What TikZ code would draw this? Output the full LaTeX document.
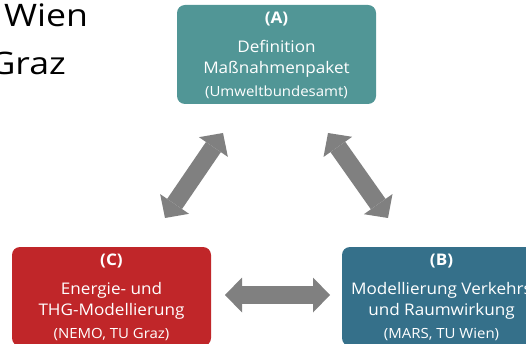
\documentclass[tikz,border=0pt]{standalone}
\usepackage{fontspec}
\setmainfont[FakeStretch=1.07]{Open Sans}
\newfontfamily\cityfont[FakeStretch=1.15]{Open Sans}
\usetikzlibrary{arrows.meta,calc}
\definecolor{boxA}{RGB}{81,150,150}
\definecolor{boxB}{RGB}{53,112,138}
\definecolor{boxC}{RGB}{192,38,41}
\definecolor{arrowgray}{RGB}{128,128,128}
\tikzset{
  block/.style={rounded corners=8pt, minimum width=199pt, minimum height=99pt, inner sep=0pt},
  hdr/.style={anchor=base, text=white, inner sep=0pt, font=\fontsize{16}{19}\selectfont\bfseries},
  body/.style={anchor=base, text=white, inner sep=0pt, font=\fontsize{16}{19}\selectfont},
  foot/.style={anchor=base, text=white, inner sep=0pt, font=\fontsize{14}{17}\selectfont},
  city/.style={inner sep=0pt, font=\cityfont\fontsize{31}{36}\selectfont},
  bigtip/.tip={Triangle[length=17pt 0 0, width=35pt 0 0, line width=0pt]},
  bigarrow/.style={draw=arrowgray, line width=18pt, bigtip-bigtip}
}
\begin{document}
\begin{tikzpicture}[x=1pt,y=-1pt]
\useasboundingbox (0,0) rectangle (526,344);
\clip (0,0) rectangle (526,344);
\node[city, anchor=base west] (wien) at (4,27) {Wien};
\node[city, anchor=base east] (graz) at (66,75) {Graz};
\node[block, fill=boxA] (A) at (276.5,54.5) {};
\node[block, fill=boxC] (C) at (111.5,296.5) {};
\node[block, fill=boxB] (B) at (441.5,296.5) {};
\foreach \b/\h/\la/\lb/\f in {A/(A)/Definition/Maßnahmenpaket/(Umweltbundesamt),
  C/(C)/Energie- und/THG-Modellierung/{(NEMO, TU Graz)},
  B/(B)/Modellierung Verkehrs/und Raumwirkung/{(MARS, TU Wien)}}{
  \node[hdr] (\b h) at ($(\b.north)+(0,19)$) {\h};
  \node[body] (\b 1) at ($(\b.north)+(0,48)$) {\la};
  \node[body] (\b 2) at ($(\b.north)+(0,69)$) {\lb};
  \node[foot] (\b f) at ($(\b.north)+(0,92)$) {\f};
}
\coordinate (acA) at (223,133);
\coordinate (acC) at (165,218);
\coordinate (abA) at (328,133);
\coordinate (abB) at (388,218);
\coordinate (cbC) at (225,295);
\coordinate (cbB) at (330,295);
\draw[bigarrow] (acC) -- (acA);
\draw[bigarrow] (abA) -- (abB);
\draw[bigarrow] (cbC) -- (cbB);
\end{tikzpicture}
\end{document}
